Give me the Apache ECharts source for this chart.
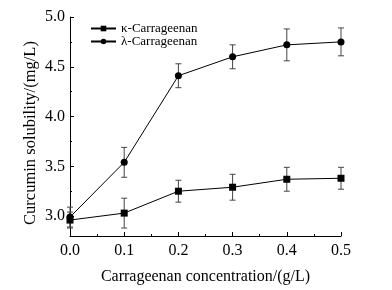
<!DOCTYPE html>
<html>
<head>
<meta charset="utf-8">
<script src="https://cdn.jsdelivr.net/npm/echarts@6/dist/echarts.min.js"></script>
<style>
  html, body { margin: 0; padding: 0; background: #fff; }
  #chart { width: 392px; height: 290px; }
</style>
</head>
<body>
<div id="chart"></div>
<script>
// concentration (g/L)
var conc = [0.0, 0.1, 0.2, 0.3, 0.4, 0.5];
// kappa-carrageenan mean / error
var kappaMean = [2.96, 3.03, 3.25, 3.29, 3.37, 3.38];
var kappaErr = [0.08, 0.15, 0.11, 0.13, 0.12, 0.11];
// lambda-carrageenan mean / error
var lambdaMean = [2.99, 3.54, 4.41, 4.60, 4.72, 4.75];
var lambdaErr = [0.10, 0.15, 0.12, 0.12, 0.16, 0.14];
var yMajor = [3.0, 3.5, 4.0, 4.5, 5.0];
var yMinor = [3.25, 3.75, 4.25, 4.75];

var font = 'Liberation Serif';

function pairs(xs, ys) {
  return xs.map(function (x, i) { return [x, ys[i]]; });
}
function errData(xs, ys, es) {
  return xs.map(function (x, i) { return [x, ys[i] - es[i], ys[i] + es[i]]; });
}
function errRender(params, api) {
  var lo = api.coord([api.value(0), api.value(1)]);
  var hi = api.coord([api.value(0), api.value(2)]);
  var w = 3;
  var st = { stroke: '#444', lineWidth: 1 };
  return {
    type: 'group',
    children: [
      { type: 'line', shape: { x1: lo[0], y1: lo[1], x2: hi[0], y2: hi[1] }, style: st },
      { type: 'line', shape: { x1: lo[0] - w, y1: lo[1], x2: lo[0] + w, y2: lo[1] }, style: st },
      { type: 'line', shape: { x1: hi[0] - w, y1: hi[1], x2: hi[0] + w, y2: hi[1] }, style: st }
    ]
  };
}

var chart = echarts.init(document.getElementById('chart'));
var axisLine = { show: true, lineStyle: { color: '#000', width: 1 } };
chart.setOption({
  animation: false,
  textStyle: { fontFamily: font },
  grid: { left: 70, right: 51, top: 17, bottom: 54 },
  legend: {
    left: 85, top: 17, orient: 'vertical', itemWidth: 25, itemHeight: 7, itemGap: 0,
    textStyle: { fontFamily: font, fontSize: 13, color: '#000' },
    data: ['κ-Carrageenan', 'λ-Carrageenan']
  },
  // y axis title placed by hand, slightly below the plot centre like the original
  graphic: [{
    type: 'text', x: 31, y: 133, rotation: Math.PI / 2,
    style: {
      text: 'Curcumin solubility/(mg/L)', font: '16.5px "Liberation Serif"', fill: '#000',
      align: 'center', verticalAlign: 'middle'
    }
  }],
  xAxis: {
    type: 'value', min: 0, max: 0.5, interval: 0.1,
    name: 'Carrageenan concentration/(g/L)', nameLocation: 'middle', nameGap: 33,
    nameTextStyle: { fontFamily: font, fontSize: 16, color: '#000' },
    axisLine: axisLine,
    axisTick: { inside: true, length: 4, lineStyle: { color: '#000' } },
    minorTick: { show: true, splitNumber: 2, length: 2, lineStyle: { color: '#000' } },
    axisLabel: { fontFamily: font, fontSize: 16, color: '#000', margin: 7,
      formatter: function (v) { return v.toFixed(1); } },
    splitLine: { show: false }
  },
  yAxis: [{
    type: 'value', min: 2.8, max: 5.0,
    axisLine: axisLine,
    axisTick: { inside: true, length: 4, customValues: yMajor, lineStyle: { color: '#000' } },
    axisLabel: { fontFamily: font, fontSize: 16, color: '#000', margin: 5, customValues: yMajor,
      formatter: function (v) { return v.toFixed(1); } },
    splitLine: { show: false }
  }, {
    type: 'value', min: 2.8, max: 5.0, position: 'left',
    axisLine: { show: false },
    axisTick: { inside: true, length: 2, customValues: yMinor, lineStyle: { color: '#000' } },
    axisLabel: { show: false },
    splitLine: { show: false }
  }],
  series: [{
    name: 'κ-Carrageenan', type: 'line', data: pairs(conc, kappaMean),
    symbol: 'rect', symbolSize: 7, z: 3,
    lineStyle: { color: '#000', width: 1 }, itemStyle: { color: '#000' }
  }, {
    name: 'λ-Carrageenan', type: 'line', data: pairs(conc, lambdaMean),
    symbol: 'circle', symbolSize: 7, z: 3,
    lineStyle: { color: '#000', width: 1 }, itemStyle: { color: '#000' }
  }, {
    type: 'custom', renderItem: errRender, data: errData(conc, kappaMean, kappaErr), z: 2
  }, {
    type: 'custom', renderItem: errRender, data: errData(conc, lambdaMean, lambdaErr), z: 2
  }]
});
</script>
</body>
</html>
